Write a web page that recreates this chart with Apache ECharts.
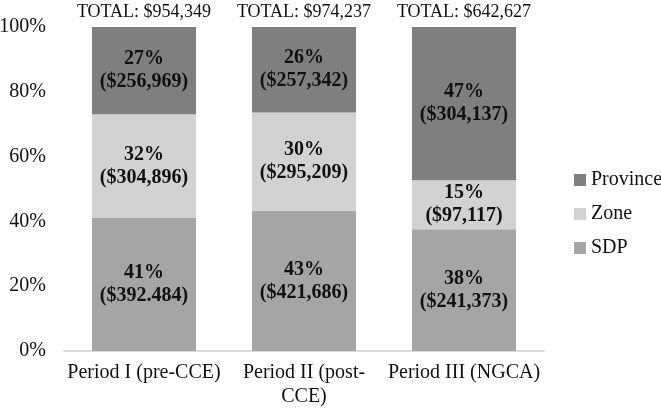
<!DOCTYPE html>
<html>
<head>
<meta charset="utf-8">
<script src="https://cdn.jsdelivr.net/npm/echarts@6/dist/echarts.min.js"></script>
<style>html,body{margin:0;padding:0;background:#fff;}#c{width:661px;height:409px;}</style>
</head>
<body>
<div id="c"></div>
<script>
var categories = ['Period I (pre-CCE)', 'Period II (post-\nCCE)', 'Period III (NGCA)'];
var sdpDollars = [392484, 421686, 241373];
var zoneDollars = [304896, 295209, 97117];
var provinceDollars = [256969, 257342, 304137];
var sdpLabels = ['41%\n($392.484)', '43%\n($421,686)', '38%\n($241,373)'];
var zoneLabels = ['32%\n($304,896)', '30%\n($295,209)', '15%\n($97,117)'];
var provinceLabels = ['27%\n($256,969)', '26%\n($257,342)', '47%\n($304,137)'];
var totalLabels = ['TOTAL: $954,349', 'TOTAL: $974,237', 'TOTAL: $642,627'];
var yTicks = [0, 20, 40, 60, 80, 100];

var FONT = "'Liberation Serif', 'Times New Roman', serif";
var totals = sdpDollars.map(function (v, i) { return v + zoneDollars[i] + provinceDollars[i]; });
function pct(arr) { return arr.map(function (v, i) { return v / totals[i] * 100; }); }

function inner(labels) {
  return {
    show: true, position: 'inside', color: '#111', fontFamily: FONT,
    fontSize: 20, fontWeight: 'bold', lineHeight: 23,
    formatter: function (p) { return labels[p.dataIndex]; }
  };
}

var chart = echarts.init(document.getElementById('c'), null, { renderer: 'canvas' });
chart.setOption({
  animation: false,
  backgroundColor: '#fff',
  textStyle: { fontFamily: FONT },
  grid: { left: 64, top: 27, width: 480, height: 324, containLabel: false, outerBoundsMode: 'none' },
  legend: {
    orient: 'vertical', left: 569, top: 165, itemGap: 14,
    itemWidth: 12, itemHeight: 12, icon: 'rect',
    data: ['Province', 'Zone', 'SDP'],
    textStyle: { fontFamily: FONT, fontSize: 20, color: '#111' }
  },
  xAxis: {
    type: 'category', data: categories,
    axisLine: { lineStyle: { color: '#d0d0d0', width: 1.5 } },
    axisTick: { show: false },
    axisLabel: { fontFamily: FONT, fontSize: 20, color: '#111', lineHeight: 24, margin: 10, interval: 0 }
  },
  yAxis: {
    type: 'value', min: yTicks[0], max: yTicks[yTicks.length - 1], interval: 20,
    splitLine: { show: false },
    axisLine: { show: false }, axisTick: { show: false },
    axisLabel: { fontFamily: FONT, fontSize: 20, color: '#111', margin: 18, formatter: '{value}%' }
  },
  series: [
    { name: 'SDP', type: 'bar', stack: 's', barWidth: '65%', data: pct(sdpDollars),
      itemStyle: { color: '#a5a5a5' }, label: inner(sdpLabels) },
    { name: 'Zone', type: 'bar', stack: 's', data: pct(zoneDollars),
      itemStyle: { color: '#d2d2d2' }, label: inner(zoneLabels) },
    { name: 'Province', type: 'bar', stack: 's', data: pct(provinceDollars),
      itemStyle: { color: '#7f7f7f' }, label: inner(provinceLabels) },
    { name: 'Total', type: 'bar', stack: 's', data: [0, 0, 0],
      itemStyle: { color: 'transparent' },
      label: { show: true, position: 'top', distance: 6, fontFamily: FONT, fontSize: 18, color: '#111',
        formatter: function (p) { return totalLabels[p.dataIndex]; } } }
  ]
});
</script>
</body>
</html>
